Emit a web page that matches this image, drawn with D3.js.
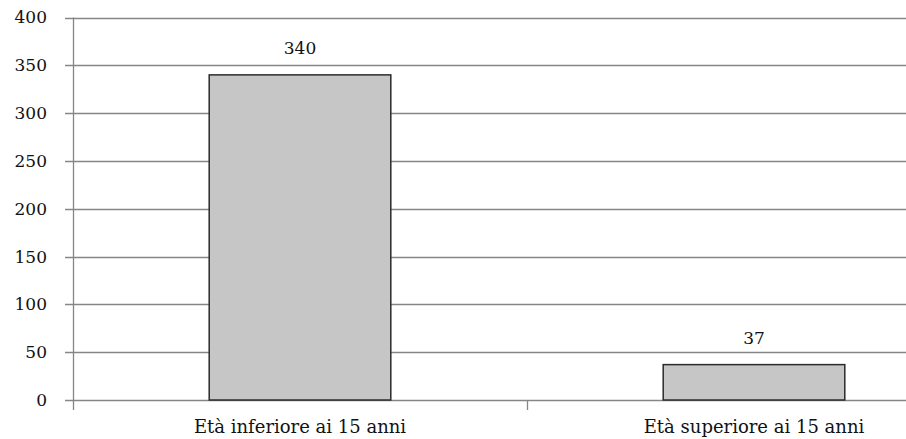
<!DOCTYPE html>
<html>
<head>
<meta charset="utf-8">
<script src="https://cdn.jsdelivr.net/npm/d3@7"></script>
<style>
    body { margin: 0; background: #fff; }
    svg text { font-family: "DejaVu Serif", Georgia, serif; fill: #111; }
</style>
</head>
<body>
<svg id="chart" width="906" height="439"></svg>
<script>
const categories = ["Età inferiore ai 15 anni", "Età superiore ai 15 anni"];
const values = [340, 37];
const yTicks = [0, 50, 100, 150, 200, 250, 300, 350, 400];

const margin = { top: 17.5, left: 73 };
const plotHeight = 382.5;
const bandWidth = 454;

let svg = d3.select("#chart");

let x = d3.scaleBand()
        .domain(categories)
        .range([margin.left, margin.left + bandWidth * categories.length])
        .paddingInner(0)
        .paddingOuter(0);

let y = d3.scaleLinear()
        .domain([0, 400])
        .range([margin.top + plotHeight, margin.top]);

// gridlines + y tick labels
let grid = svg.append("g").attr("class", "grid");
grid.selectAll("line")
        .data(yTicks)
        .enter()
        .append("line")
                .attr("x1", margin.left - 8)
                .attr("x2", 906)
                .attr("y1", d => Math.round(y(d)) + 0.5)
                .attr("y2", d => Math.round(y(d)) + 0.5)
                .attr("stroke", "#868686")
                .attr("stroke-width", 1.3);

grid.selectAll("text")
        .data(yTicks)
        .enter()
        .append("text")
                .attr("x", 47)
                .attr("y", d => y(d))
                .attr("dy", "0.35em")
                .attr("text-anchor", "end")
                .style("font-size", "17px")
                .text(d => d);

// bars
let bars = svg.append("g").attr("class", "bars");
bars.selectAll("rect")
        .data(values)
        .enter()
        .append("rect")
                .attr("x", (d, i) => x(categories[i]) + x.bandwidth() * 0.3)
                .attr("width", x.bandwidth() * 0.4)
                .attr("y", d => y(d))
                .attr("height", d => y(0) - y(d))
                .attr("fill", "#c6c6c6")
                .attr("stroke", "#2b2b2b")
                .attr("stroke-width", 1.5);

bars.selectAll("text")
        .data(values)
        .enter()
        .append("text")
                .attr("x", (d, i) => x(categories[i]) + x.bandwidth() / 2)
                .attr("y", d => y(d) - 21)
                .attr("text-anchor", "middle")
                .style("font-size", "17px")
                .text(d => d);

// y axis line
svg.append("line")
        .attr("x1", margin.left + 0.5)
        .attr("x2", margin.left + 0.5)
        .attr("y1", margin.top)
        .attr("y2", y(0) + 10)
        .attr("stroke", "#868686")
        .attr("stroke-width", 1.3);

// x ticks between categories
svg.append("g")
        .selectAll("line")
        .data(categories.slice(1))
        .enter()
        .append("line")
                .attr("x1", d => Math.round(x(d)) + 0.5)
                .attr("x2", d => Math.round(x(d)) + 0.5)
                .attr("y1", y(0))
                .attr("y2", y(0) + 10)
                .attr("stroke", "#868686")
                .attr("stroke-width", 1.3);

// category labels
svg.append("g")
        .selectAll("text")
        .data(categories)
        .enter()
        .append("text")
                .attr("x", d => x(d) + x.bandwidth() / 2)
                .attr("y", 433)
                .attr("text-anchor", "middle")
                .style("font-size", "18px")
                .text(d => d);
</script>
</body>
</html>
